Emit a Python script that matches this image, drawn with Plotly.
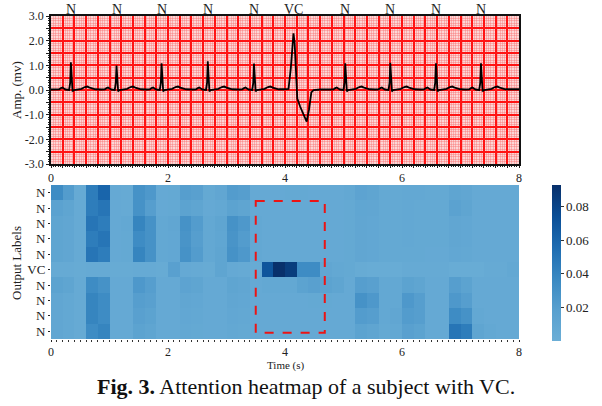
import plotly.graph_objects as go

W, H = 602, 406
FONT = "Liberation Serif"

# ---------------- data ----------------
beat_labels = ["N", "N", "N", "N", "N", "VC", "N", "N", "N", "N"]
r_times = [0.34, 1.12, 1.89, 2.68, 3.47, 4.14, 5.03, 5.80, 6.58, 7.35]
r_amps = [1.12, 0.99, 1.08, 1.16, 1.07, 2.30, 1.08, 1.10, 1.08, 1.08]

# normal beat shape: offsets from R peak (s) and amplitude (mV); R value replaced by beat amplitude
beat_offsets = [-0.26, -0.20, -0.17, -0.145, -0.12, -0.09, -0.03, -0.012, 0.0, 0.012, 0.028, 0.05, 0.10, 0.18, 0.24, 0.28, 0.32, 0.38, 0.42]
beat_shape   = [0.02, 0.03, 0.08, 0.10, 0.06, 0.02, 0.0, 0.30, None, 0.25, -0.06, 0.0, 0.02, 0.05, 0.12, 0.14, 0.10, 0.04, 0.03]

# ventricular (VC) beat trace (absolute time, mV)
vc_t = [3.98, 4.06, 4.10, 4.13, 4.145, 4.165, 4.19, 4.21, 4.26, 4.31, 4.37, 4.41, 4.45, 4.49, 4.60, 4.80]
vc_v = [0.03, 0.04, 0.90, 2.10, 2.30, 1.90, 0.50, -0.35, -0.68, -0.95, -1.28, -0.80, -0.10, 0.0, 0.02, 0.03]

# attention weights: 10 output labels x 40 time bins (0.2 s each)
bin_width = 0.2
attn = [
    [0.035,0.022,0.005,0.045,0.060,0.006,0.005,0.030,0.025,0.006, 0.007,0.020,0.018,0.007,0.010,0.022,0.020,0.006,0.006,0.006, 0.007,0.007,0.006,0.006,0.006,0.008,0.014,0.012,0.007,0.007, 0.008,0.008,0.007,0.007,0.012,0.010,0.006,0.006,0.006,0.006],
    [0.016,0.012,0.005,0.045,0.050,0.006,0.005,0.030,0.020,0.006, 0.007,0.015,0.012,0.006,0.008,0.015,0.012,0.006,0.006,0.006, 0.006,0.006,0.006,0.006,0.006,0.007,0.011,0.010,0.007,0.007, 0.008,0.007,0.007,0.007,0.016,0.012,0.006,0.006,0.006,0.006],
    [0.012,0.010,0.005,0.050,0.045,0.006,0.008,0.040,0.030,0.008, 0.010,0.030,0.022,0.008,0.012,0.030,0.025,0.008,0.006,0.006, 0.006,0.006,0.006,0.006,0.006,0.007,0.010,0.009,0.007,0.007, 0.008,0.007,0.007,0.007,0.010,0.009,0.006,0.006,0.006,0.006],
    [0.012,0.010,0.005,0.045,0.050,0.006,0.007,0.035,0.030,0.008, 0.009,0.028,0.020,0.008,0.011,0.028,0.022,0.008,0.006,0.006, 0.006,0.006,0.006,0.006,0.006,0.007,0.010,0.009,0.007,0.007, 0.008,0.007,0.007,0.007,0.010,0.009,0.006,0.006,0.006,0.006],
    [0.012,0.010,0.005,0.050,0.045,0.006,0.007,0.040,0.030,0.008, 0.009,0.030,0.022,0.008,0.012,0.030,0.025,0.008,0.006,0.006, 0.006,0.006,0.006,0.006,0.006,0.007,0.010,0.009,0.007,0.007, 0.007,0.007,0.006,0.006,0.009,0.008,0.006,0.006,0.006,0.006],
    [0.005,0.005,0.004,0.005,0.005,0.004,0.004,0.005,0.005,0.004, 0.018,0.006,0.005,0.004,0.012,0.006,0.005,0.004,0.070,0.093, 0.085,0.035,0.035,0.010,0.008,0.007,0.004,0.003,0.003,0.003, 0.005,0.005,0.005,0.005,0.003,0.003,0.003,0.005,0.005,0.008],
    [0.015,0.012,0.005,0.035,0.030,0.006,0.006,0.025,0.020,0.006, 0.006,0.014,0.012,0.006,0.006,0.012,0.010,0.006,0.008,0.008, 0.008,0.015,0.018,0.015,0.012,0.006,0.020,0.018,0.008,0.008, 0.015,0.012,0.006,0.006,0.020,0.015,0.006,0.006,0.006,0.006],
    [0.010,0.008,0.005,0.040,0.035,0.006,0.006,0.020,0.018,0.006, 0.006,0.010,0.009,0.006,0.006,0.010,0.009,0.006,0.006,0.006, 0.006,0.006,0.007,0.007,0.006,0.006,0.030,0.025,0.008,0.008, 0.025,0.020,0.006,0.006,0.025,0.020,0.006,0.006,0.006,0.006],
    [0.010,0.008,0.005,0.040,0.035,0.006,0.006,0.018,0.015,0.006, 0.006,0.009,0.008,0.006,0.006,0.009,0.008,0.006,0.006,0.006, 0.006,0.006,0.006,0.006,0.006,0.006,0.022,0.020,0.008,0.010, 0.022,0.020,0.006,0.006,0.035,0.030,0.008,0.006,0.006,0.006],
    [0.010,0.008,0.005,0.035,0.040,0.006,0.006,0.015,0.012,0.006, 0.006,0.008,0.007,0.006,0.006,0.008,0.007,0.006,0.006,0.006, 0.006,0.006,0.006,0.006,0.006,0.006,0.015,0.012,0.007,0.008, 0.018,0.015,0.006,0.006,0.050,0.045,0.012,0.008,0.006,0.006],
]

x_tick_labels = ["0", "2", "4", "6", "8"]
cbar_ticks = [0.02, 0.04, 0.06, 0.08]
caption = "<b>Fig. 3.</b> Attention heatmap of a subject with VC."

# ---------------- build ECG trace ----------------
pts = []
for lab, rt, ra in zip(beat_labels, r_times, r_amps):
    if lab == "VC":
        pts += list(zip(vc_t, vc_v))
    else:
        for o, v in zip(beat_offsets, beat_shape):
            pts.append((rt + o, ra if v is None else v))
pts.append((0.0, 0.02))
pts.append((8.0, 0.03))
pts.sort()
ecg_t = [p[0] for p in pts]
ecg_v = [p[1] for p in pts]

# ---------------- figure ----------------
fig = go.Figure()
fig.add_trace(go.Scatter(x=ecg_t, y=ecg_v, mode="lines",
                         line=dict(color="black", width=1.8),
                         xaxis="x", yaxis="y", showlegend=False))

n_bins = len(attn[0])
x_edges = [round(i * bin_width, 3) for i in range(n_bins + 1)]
fig.add_trace(go.Heatmap(
    z=attn, x=x_edges, y=list(range(len(beat_labels))),
    xaxis="x2", yaxis="y2", zmin=0, zmax=0.093,
    colorscale=[[0, "rgb(107,174,214)"], [0.2, "rgb(88,160,207)"], [0.4, "rgb(58,137,194)"],
                [0.6, "rgb(30,108,177)"], [0.8, "rgb(10,78,150)"], [1, "rgb(8,48,107)"]],
    colorbar=dict(x=552 / W, xanchor="left", xpad=0, ypad=0,
                  y=1 - 341 / H, yanchor="bottom",
                  len=156 / H, lenmode="fraction", thickness=9, outlinewidth=0,
                  tickvals=cbar_ticks, ticktext=[f"{v:.2f}" for v in cbar_ticks],
                  ticks="outside", ticklen=3, tickcolor="#333",
                  tickfont=dict(family=FONT, size=13, color="#222")),
    showscale=True, hoverinfo="skip"))

xd = [51 / W, 519 / W]
major_x = [round(i * 0.2, 2) for i in range(41)]
major_x_text = [str(int(v)) if abs(v / 2 - round(v / 2)) < 1e-6 else "" for v in major_x]
major_y = [round(-3 + i * 0.5, 2) for i in range(13)]
major_y_text = [f"{v:.1f}" if abs(v - round(v)) < 1e-6 else "" for v in major_y]

fig.update_layout(
    width=W, height=H, margin=dict(l=0, r=0, t=0, b=0, autoexpand=False),
    paper_bgcolor="white", plot_bgcolor="#fcd6d6",
    font=dict(family=FONT, size=12, color="#222"),
    xaxis=dict(domain=xd, anchor="y", range=[0, 8], tickmode="array",
               tickvals=major_x, ticktext=major_x_text,
               ticks="outside", ticklen=2, tickcolor="#222",
               showgrid=True, gridcolor="rgb(255,20,20)", gridwidth=1.5,
               minor=dict(dtick=0.04, tick0=0, showgrid=True, gridcolor="rgba(250,110,110,0.4)",
                          gridwidth=1, ticks="outside", ticklen=1.5, tickcolor="#222"),
               showline=True, linecolor="#111", linewidth=1.5, mirror=True,
               zeroline=False, tickfont=dict(size=12)),
    yaxis=dict(domain=[1 - 164 / H, 1 - 16 / H], anchor="x", range=[-3, 3],
               tickmode="array", tickvals=major_y, ticktext=major_y_text,
               ticks="outside", ticklen=3, tickcolor="#222",
               showgrid=True, gridcolor="rgb(255,20,20)", gridwidth=1.5,
               minor=dict(dtick=0.1, tick0=0, showgrid=True, gridcolor="rgba(250,110,110,0.4)",
                          gridwidth=1, ticks="outside", ticklen=1.5, tickcolor="#222"),
               showline=True, linecolor="#111", linewidth=1.5, mirror=True,
               zeroline=False, tickfont=dict(size=12)),
    xaxis2=dict(domain=xd, anchor="y2", range=[0, 8], tickmode="array",
                tickvals=[0, 2, 4, 6, 8], ticktext=x_tick_labels,
                ticks="outside", ticklen=2, tickcolor="#222",
                minor=dict(dtick=0.1, tick0=0, ticks="outside", ticklen=2, tickcolor="#333"),
                showgrid=False, zeroline=False, showline=False, tickfont=dict(size=12)),
    yaxis2=dict(domain=[1 - 339 / H, 1 - 185 / H], anchor="x2", range=[9.5, -0.5],
                tickmode="array", tickvals=list(range(len(beat_labels))), ticktext=beat_labels,
                ticks="outside", ticklen=2, tickcolor="#222",
                showgrid=False, zeroline=False, showline=False, tickfont=dict(size=13)),
)

# red dashed box around the VC attention
fig.add_shape(type="rect", xref="x2", yref="y2", x0=3.5, x1=4.68, y0=0.54, y1=9.1,
              line=dict(color="rgb(235,20,20)", width=2, dash="dash"))

def note(x, y, text, size, angle=0, color="#222", xref="paper"):
    fig.add_annotation(x=x, y=y, xref=xref, yref="paper", text=text, textangle=angle,
                       xanchor="center", yanchor="middle", showarrow=False,
                       font=dict(family=FONT, size=size, color=color))

# beat labels above the ECG
for lab, rt in zip(beat_labels, r_times):
    note(rt, 1 - 10 / H, lab, 14, xref="x")

note(16 / W, 1 - 90 / H, "Amp. (mv)", 13, angle=-90)
note(16 / W, 1 - 263 / H, "Output Labels", 13, angle=-90)
note(286 / W, 1 - 365 / H, "Time (s)", 11)
note(306 / W, 1 - 386 / H, caption, 22, color="#111")

fig.write_html("out.html")
